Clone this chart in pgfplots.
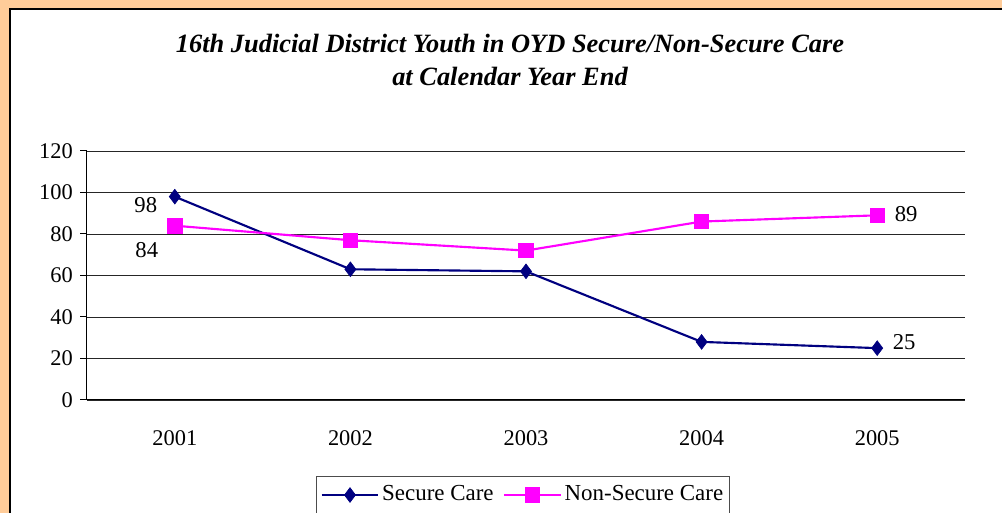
\documentclass[border=0pt]{standalone}
\usepackage{pgfplots}
\pgfplotsset{compat=1.18}
\usepackage{fontspec}
\setmainfont{Liberation Serif}
\definecolor{bgorange}{HTML}{FFCC99}
\definecolor{navyline}{HTML}{000080}
\definecolor{magline}{HTML}{FF00FF}
\begin{document}
\fontsize{16.5}{19}\selectfont
\begin{tikzpicture}
\path[use as bounding box] (0,0) rectangle (751.5pt,384.75pt);
\fill[bgorange] (0,0) rectangle (751.5pt,384.75pt);
\draw[black, line width=1.2pt, fill=white] (7.5pt,-10pt) rectangle (760pt,378pt);
\node[align=center, font=\fontsize{19.8}{24.75}\selectfont\bfseries\itshape] at (382.5pt,340.1pt)
  {16th Judicial District Youth in OYD Secure/Non-Secure Care\\at Calendar Year End};
\begin{axis}[
  at={(65.25pt,84.75pt)}, anchor=origin,
  scale only axis, width=658.5pt, height=186.75pt,
  xmin=0.5, xmax=5.5, ymin=0, ymax=120,
  axis x line=bottom, axis y line=left,
  axis line style={-, black, line width=0.75pt},
  xtick={1,2,3,4,5},
  xticklabels={2001,2002,2003,2004,2005},
  major x tick style={draw=none},
  extra x ticks={0.5,1.5,2.5,3.5,4.5,5.5},
  extra x tick labels={},
  extra x tick style={major tick length=6pt, tick align=outside, tick style={black, line width=0.75pt, draw=black}},
  ytick={0,20,40,60,80,100,120},
  tick align=outside,
  major tick length=5pt,
  tick style={black, line width=0.75pt},
  ymajorgrids, grid style={black!85, line width=0.7pt},
  /pgf/number format/assume math mode=true,
  tick label style={font=\fontsize{16.8}{19}\selectfont},
  xticklabel style={yshift=-12pt},
  legend style={at={(0.2608,-0.305)}, anchor=north west, draw=black!70, line width=0.75pt,
    font=\fontsize{17.2}{19}\selectfont, legend columns=2,
    /tikz/every even column/.append style={column sep=5pt},
    inner xsep=3pt, inner ysep=5pt},
  legend image code/.code={\draw[mark repeat=2,mark phase=2] plot coordinates {(0cm,0cm) (0.75cm,0cm) (1.5cm,0cm)};},
  clip=false,
]
\addplot[navyline, line width=1.6pt, mark=diamond*, mark size=5.5pt, mark options={fill=navyline, draw=navyline, line width=0.5pt}]
  coordinates {(1,98) (2,63) (3,62) (4,28) (5,25)};
\addlegendentry{Secure Care}
\addplot[magline, line width=1.6pt, mark=square*, mark size=5.4pt, mark options={fill=magline, draw=magline, line width=0.5pt}]
  coordinates {(1,84) (2,77) (3,72) (4,86) (5,89)};
\addlegendentry{Non-Secure Care}
\node[font=\fontsize{17}{19}\selectfont] at (axis cs:1,98) [xshift=-21.75pt, yshift=-6pt] {98};
\node[font=\fontsize{17}{19}\selectfont] at (axis cs:1,84) [xshift=-21pt, yshift=-18pt] {84};
\node[font=\fontsize{17}{19}\selectfont] at (axis cs:5,89) [xshift=21.75pt, yshift=0.75pt] {89};
\node[font=\fontsize{17}{19}\selectfont] at (axis cs:5,25) [xshift=20.25pt, yshift=4.5pt] {25};
\end{axis}
\end{tikzpicture}
\end{document}
